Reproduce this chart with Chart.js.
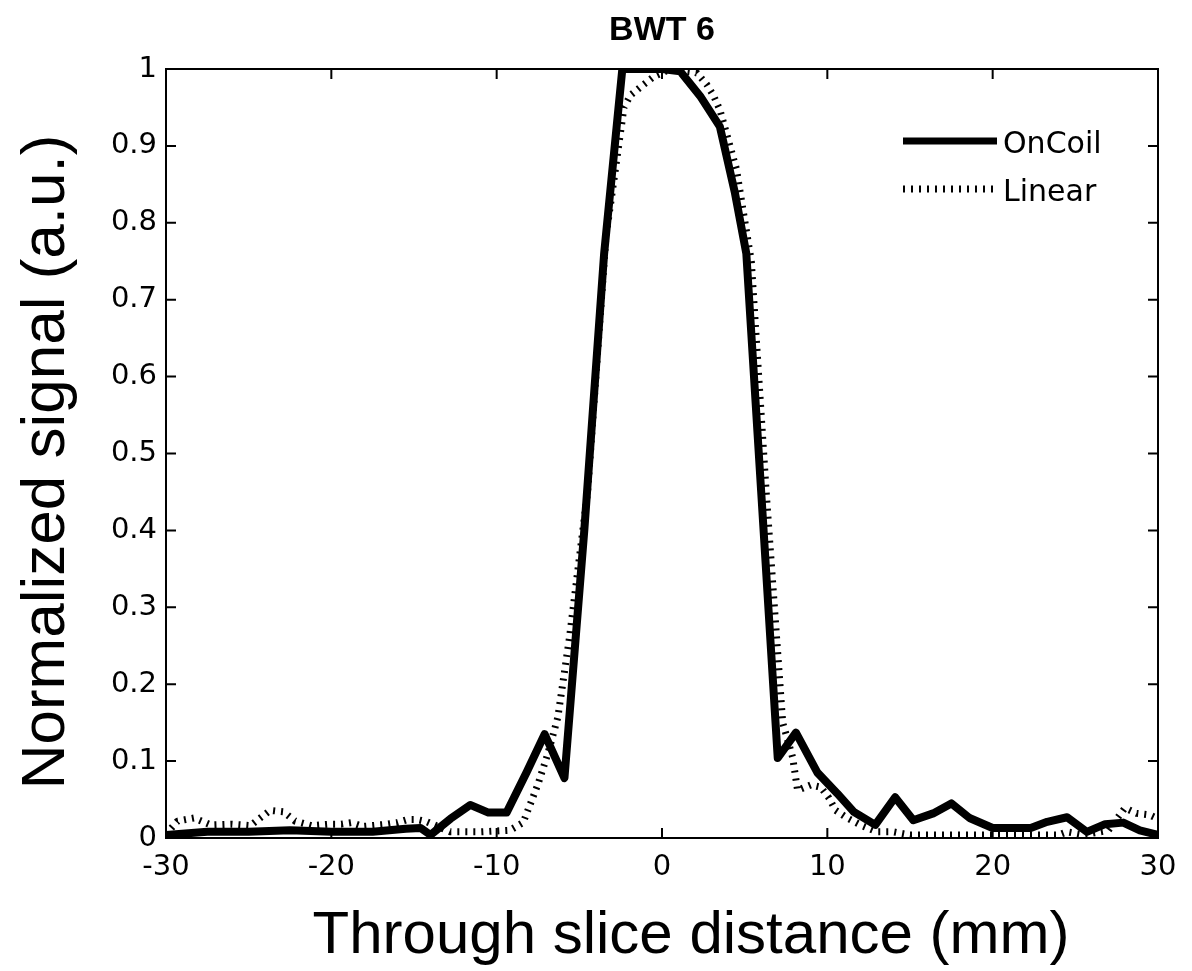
<!DOCTYPE html>
<html>
<head>
<meta charset="utf-8">
<title>BWT 6</title>
<script src="https://cdn.jsdelivr.net/npm/chart.js@4.4.1/dist/chart.umd.min.js"></script>
<style>
  html, body { margin: 0; padding: 0; background: #fff; }
  #wrap { width: 1192px; height: 971px; }
</style>
</head>
<body>
<div id="wrap"><canvas id="sliceChart" width="1192" height="971"></canvas></div>
<script>
// Through slice distance (mm) and normalized signal
const onCoilX = [-30, -27.5, -25, -22.5, -20, -17.5, -15.5, -14.6, -14.0, -12.8, -11.6, -10.5, -9.4, -8.2, -7.1, -5.9,
                 -4.7, -3.5, -2.4, -1.2, 0, 1.1, 2.3, 3.5, 4.4, 5.1, 6.0, 7.0, 8.1, 9.4, 10.6, 11.6, 12.9, 14.1,
                 15.2, 16.4, 17.5, 18.6, 20.0, 21.1, 22.3, 23.3, 24.5, 25.7, 26.8, 27.9, 28.9, 30];
const onCoilY = [0.004, 0.008, 0.008, 0.01, 0.008, 0.008, 0.012, 0.013, 0.004, 0.025, 0.043, 0.033, 0.033, 0.085, 0.135, 0.078,
                 0.40, 0.76, 1.0, 1.0, 1.0, 0.997, 0.965, 0.925, 0.84, 0.76, 0.45, 0.104, 0.137, 0.085, 0.058, 0.034, 0.017, 0.053,
                 0.023, 0.032, 0.045, 0.026, 0.013, 0.013, 0.013, 0.021, 0.027, 0.008, 0.018, 0.02, 0.01, 0.004];

const linearX = [-30, -29.3, -28.3, -27.3, -26.0, -24.9, -24.3, -23.7, -22.9, -22.2, -21.2, -20.1, -19.4, -18.8, -18.1,
                 -16.6, -16.0, -15.4, -14.8, -14.2, -12.8, -11.0, -9.2, -8.4, -7.5, -6.9, -6.3, -5.6, -4.5, -3.4, -2.3,
                 -1.9, -1.1, -0.5, 0.5, 2.1, 2.7, 3.1, 3.5, 4.5, 5.4, 6.3, 7.3, 7.9, 8.2, 9.0, 9.6, 10.1, 10.5, 11.2,
                 12.0, 13.0, 14.0, 15.0, 18.0, 21.0, 24.0, 24.5, 25.5, 27.0, 28.0, 28.7, 29.5, 30];
const linearY = [0.005, 0.022, 0.026, 0.017, 0.018, 0.016, 0.026, 0.036, 0.034, 0.022, 0.016, 0.018, 0.018, 0.02, 0.015,
                 0.018, 0.02, 0.024, 0.024, 0.021, 0.008, 0.008, 0.01, 0.02, 0.07, 0.11, 0.157, 0.26, 0.45, 0.78, 0.95,
                 0.966, 0.98, 0.99, 1.0, 0.995, 0.98, 0.966, 0.947, 0.87, 0.75, 0.45, 0.15, 0.105, 0.062, 0.069, 0.066, 0.052, 0.036, 0.026,
                 0.017, 0.008, 0.008, 0.004, 0.004, 0.004, 0.004, 0.008, 0.004, 0.01, 0.039, 0.032, 0.03, 0.025];

const xTickValues = [-30, -20, -10, 0, 10, 20, 30];
const yTickLabels = ['0', '0.1', '0.2', '0.3', '0.4', '0.5', '0.6', '0.7', '0.8', '0.9', '1'];
const seriesNames = ['OnCoil', 'Linear'];
const chartTitle = 'BWT 6';
const xTitle = 'Through slice distance (mm)';
const yTitle = 'Normalized signal (a.u.)';

const toPoints = (xs, ys) => xs.map((x, i) => ({ x: x, y: ys[i] }));

const fontFamily = '"Liberation Sans", Arial, Helvetica, sans-serif';
const tickFamily = '"DejaVu Sans", "Liberation Sans", sans-serif';

// box around the plot with inward tick marks on all four sides
const frameTicks = {
    id: 'frameTicks',
    afterDatasetsDraw(chart) {
        const { ctx, chartArea: a, scales } = chart;
        const len = 10;
        ctx.save();
        ctx.strokeStyle = '#000';
        ctx.lineWidth = 2;
        ctx.strokeRect(a.left, a.top, a.right - a.left, a.bottom - a.top);
        ctx.beginPath();
        xTickValues.forEach(v => {
            const px = scales.x.getPixelForValue(v);
            ctx.moveTo(px, a.bottom); ctx.lineTo(px, a.bottom - len);
            ctx.moveTo(px, a.top); ctx.lineTo(px, a.top + len);
        });
        scales.y.ticks.forEach(t => {
            const py = scales.y.getPixelForValue(t.value);
            ctx.moveTo(a.left, py); ctx.lineTo(a.left + len, py);
            ctx.moveTo(a.right, py); ctx.lineTo(a.right - len, py);
        });
        ctx.stroke();
        ctx.restore();
    }
};

// chart title and axis titles, placed like the original figure
const figureTexts = {
    id: 'figureTexts',
    afterDraw(chart) {
        const { ctx, chartArea: a } = chart;
        ctx.save();
        ctx.fillStyle = '#000';
        ctx.textAlign = 'center';
        ctx.textBaseline = 'alphabetic';
        ctx.font = 'bold 34px ' + fontFamily;
        ctx.fillText(chartTitle, (a.left + a.right) / 2, 40);
        ctx.font = '60px ' + fontFamily;
        ctx.fillText(xTitle, a.left + 525, a.bottom + 115);
        ctx.font = '62px ' + fontFamily;
        ctx.translate(64, a.top + 393);
        ctx.rotate(-Math.PI / 2);
        ctx.fillText(yTitle, 0, 0);
        ctx.restore();
    }
};

// legend in the upper right corner of the plot, no frame
const cornerLegend = {
    id: 'cornerLegend',
    afterDatasetsDraw(chart) {
        const { ctx, chartArea: a } = chart;
        ctx.save();
        ctx.font = '30px ' + tickFamily;
        ctx.textBaseline = 'middle';
        ctx.textAlign = 'left';
        chart.data.datasets.forEach((ds, i) => {
            const y = a.top + 72 + i * 48;
            ctx.beginPath();
            ctx.strokeStyle = ds.borderColor;
            ctx.lineWidth = i === 0 ? 7 : ds.borderWidth;
            ctx.lineCap = 'butt';
            ctx.setLineDash(ds.borderDash || []);
            ctx.moveTo(a.right - 255, y);
            ctx.lineTo(a.right - 161, y);
            ctx.stroke();
            ctx.setLineDash([]);
            ctx.fillStyle = '#000';
            ctx.fillText(ds.label, a.right - 155, y + 4);
        });
        ctx.restore();
    }
};

const data = {
    datasets: [
        {
            label: seriesNames[0],
            data: toPoints(onCoilX, onCoilY),
            borderColor: '#000',
            backgroundColor: '#000',
            borderWidth: 8,
            order: 1
        },
        {
            label: seriesNames[1],
            data: toPoints(linearX, linearY),
            borderColor: '#000',
            backgroundColor: '#000',
            borderWidth: 7,
            borderDash: [2, 6],
            borderCapStyle: 'butt',
            order: 2
        }
    ]
};

const config = {
    type: 'line',
    data,
    plugins: [frameTicks, figureTexts, cornerLegend],
    options: {
        responsive: false,
        animation: false,
        devicePixelRatio: 1,
        layout: { padding: { left: 0, right: 34, top: 69, bottom: 0 } },
        elements: {
            point: { radius: 0 },
            line: { tension: 0, fill: false, borderJoinStyle: 'round' }
        },
        plugins: {
            legend: { display: false },
            tooltip: { enabled: false },
            title: { display: false }
        },
        scales: {
            x: {
                type: 'linear',
                min: -30,
                max: 30,
                afterFit: s => { s.height = 133; },
                afterBuildTicks: s => { s.ticks = xTickValues.map(v => ({ value: v })); },
                ticks: {
                    color: '#000',
                    font: { family: tickFamily, size: 29 },
                    padding: 12,
                    maxRotation: 0
                },
                grid: { display: false, drawTicks: false },
                border: { display: false }
            },
            y: {
                min: 0,
                max: 1,
                afterFit: s => { s.width = 166; },
                ticks: {
                    stepSize: 0.1,
                    color: '#000',
                    font: { family: tickFamily, size: 29 },
                    padding: 9,
                    callback: (v, i) => yTickLabels[i]
                },
                grid: { display: false, drawTicks: false },
                border: { display: false }
            }
        }
    }
};

const sliceChart = new Chart(document.getElementById('sliceChart'), config);
</script>
</body>
</html>
